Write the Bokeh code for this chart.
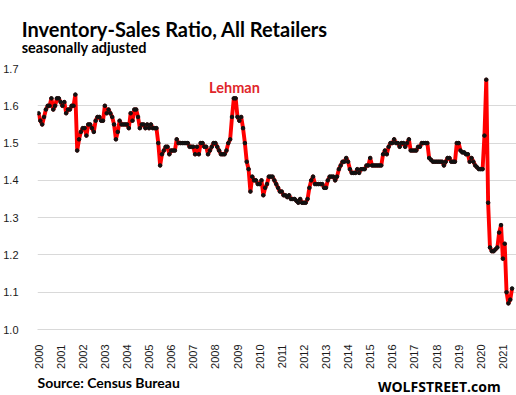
import math
from bokeh.plotting import figure
from bokeh.models import Range1d, FixedTicker, PrintfTickFormatter, Label, ColumnDataSource
from bokeh.embed import file_html
from bokeh.resources import INLINE

# ---- data (monthly, seasonally adjusted) ----
years = [str(y) for y in range(2000, 2022)]
y2000 = [1.58, 1.56, 1.55, 1.57, 1.59, 1.60, 1.60, 1.62, 1.59, 1.60, 1.62, 1.62]
y2001 = [1.61, 1.60, 1.61, 1.58, 1.59, 1.59, 1.60, 1.60, 1.63, 1.48, 1.51, 1.53]
y2002 = [1.54, 1.54, 1.52, 1.55, 1.55, 1.54, 1.53, 1.56, 1.57, 1.57, 1.56, 1.56]
y2003 = [1.60, 1.58, 1.59, 1.58, 1.57, 1.55, 1.51, 1.53, 1.56, 1.55, 1.55, 1.55]
y2004 = [1.55, 1.54, 1.58, 1.56, 1.59, 1.59, 1.57, 1.54, 1.55, 1.55, 1.54, 1.55]
y2005 = [1.54, 1.55, 1.54, 1.54, 1.54, 1.50, 1.44, 1.47, 1.48, 1.49, 1.49, 1.47]
y2006 = [1.48, 1.48, 1.48, 1.51, 1.50, 1.50, 1.50, 1.50, 1.50, 1.50, 1.49, 1.49]
y2007 = [1.49, 1.47, 1.49, 1.47, 1.50, 1.50, 1.49, 1.49, 1.47, 1.48, 1.49, 1.50]
y2008 = [1.50, 1.49, 1.48, 1.47, 1.47, 1.47, 1.48, 1.50, 1.51, 1.57, 1.62, 1.62]
y2009 = [1.57, 1.56, 1.57, 1.54, 1.50, 1.45, 1.43, 1.37, 1.41, 1.40, 1.40, 1.39]
y2010 = [1.39, 1.40, 1.36, 1.38, 1.39, 1.41, 1.41, 1.41, 1.40, 1.39, 1.38, 1.37]
y2011 = [1.37, 1.36, 1.36, 1.355, 1.36, 1.35, 1.35, 1.35, 1.345, 1.34, 1.35, 1.34]
y2012 = [1.34, 1.34, 1.35, 1.38, 1.40, 1.41, 1.39, 1.39, 1.39, 1.39, 1.39, 1.38]
y2013 = [1.38, 1.40, 1.41, 1.41, 1.41, 1.40, 1.41, 1.43, 1.44, 1.45, 1.45, 1.46]
y2014 = [1.45, 1.43, 1.42, 1.42, 1.42, 1.43, 1.42, 1.43, 1.43, 1.43, 1.44, 1.44]
y2015 = [1.46, 1.44, 1.44, 1.44, 1.44, 1.44, 1.44, 1.47, 1.48, 1.47, 1.49, 1.50]
y2016 = [1.50, 1.51, 1.50, 1.50, 1.49, 1.50, 1.50, 1.49, 1.50, 1.51, 1.48, 1.48]
y2017 = [1.48, 1.48, 1.49, 1.49, 1.50, 1.50, 1.50, 1.50, 1.46, 1.455, 1.45, 1.45]
y2018 = [1.45, 1.45, 1.45, 1.45, 1.44, 1.45, 1.46, 1.46, 1.45, 1.45, 1.45, 1.50]
y2019 = [1.50, 1.48, 1.475, 1.475, 1.47, 1.47, 1.45, 1.46, 1.45, 1.44, 1.435, 1.43]
y2020 = [1.43, 1.43, 1.52, 1.67, 1.34, 1.22, 1.21, 1.21, 1.215, 1.22, 1.26, 1.28]
y2021 = [1.19, 1.23, 1.10, 1.07, 1.08, 1.11]
y_ticks = [1.0, 1.1, 1.2, 1.3, 1.4, 1.5, 1.6, 1.7]

series = (y2000 + y2001 + y2002 + y2003 + y2004 + y2005 + y2006 + y2007 + y2008 +
          y2009 + y2010 + y2011 + y2012 + y2013 + y2014 + y2015 + y2016 + y2017 +
          y2018 + y2019 + y2020 + y2021)
months = list(range(len(series)))
src = ColumnDataSource(dict(m=months, v=series))

# ---- layout (figure sits at the page's top-left corner) ----
W, H = 516, 395
FL, FR, FT, FB = 32, 516, 68, 329   # frame edges in px
X0, X1 = -0.55, 259.4
Y0, Y1 = 1.0, 1.7

p = figure(width=W, height=H, output_backend="svg", toolbar_location=None,
           x_range=Range1d(X0, X1), y_range=Range1d(Y0, Y1),
           min_border_left=FL, min_border_right=W - FR,
           min_border_top=FT, min_border_bottom=H - FB)
p.outline_line_color = None
p.background_fill_color = "white"
p.border_fill_color = "white"

GRID = "#D9D9D9"
p.xgrid.grid_line_color = None
p.ygrid.grid_line_color = GRID
p.ygrid.grid_line_width = 1

p.yaxis.ticker = FixedTicker(ticks=y_ticks)
p.yaxis.formatter = PrintfTickFormatter(format="%.1f")
p.yaxis.axis_line_color = None
p.yaxis.major_tick_line_color = None
p.yaxis.minor_tick_line_color = None
p.yaxis.major_label_standoff = 13
p.yaxis.major_label_text_font = "Liberation Sans"
p.yaxis.major_label_text_font_size = "11px"
p.yaxis.major_label_text_color = "#1a1a1a"

jan_pos = [12 * i for i in range(len(years))]
p.xaxis.ticker = FixedTicker(ticks=jan_pos)
p.xaxis.major_label_overrides = {pos: yr for pos, yr in zip(jan_pos, years)}
p.xaxis.major_label_orientation = math.pi / 2
p.xaxis.axis_line_color = GRID
p.xaxis.major_tick_line_color = None
p.xaxis.minor_tick_line_color = None
p.xaxis.major_label_standoff = 9
p.xaxis.major_label_text_font = "Liberation Sans"
p.xaxis.major_label_text_font_size = "11px"
p.xaxis.major_label_text_color = "#1a1a1a"

p.line("m", "v", source=src, line_color="#FF0000", line_width=3.9, line_join="round")
p.scatter("m", "v", source=src, size=3.6, color="#111111")


def dx(page_x):
    return X0 + (page_x - FL) / (FR - FL) * (X1 - X0)


def dy(page_y):
    return Y1 - (page_y - FT) / (FB - FT) * (Y1 - Y0)


def lab(text, px, py, size, place, color="black", align="left", font="Lato"):
    p.add_layout(Label(x=dx(px), y=dy(py), text=text, text_font=font,
                       text_font_size=size, text_font_style="bold",
                       text_color=color, text_align=align,
                       text_baseline="alphabetic"), place)


lab("Inventory-Sales Ratio, All Retailers", 16, 28, "20px", "above")
lab("seasonally adjusted", 16, 47, "14.5px", "above")
lab("Source: Census Bureau", 32, 382, "14px", "above")
lab("WOLFSTREET.com", 500, 386, "14px", "below", align="right", font="Open Sans")
lab("Lehman", 231, 87, "14.5px", "center", color="#E0262B", align="center")

open("out.html", "w").write(file_html(p, INLINE))
